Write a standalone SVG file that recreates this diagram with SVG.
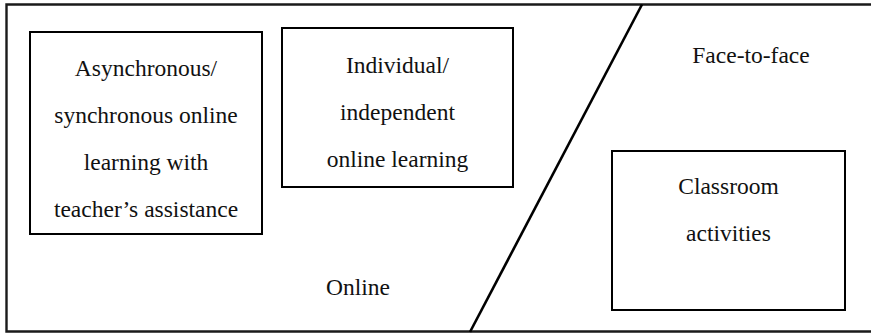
<svg xmlns="http://www.w3.org/2000/svg" width="871" height="333" viewBox="0 0 871 333">
  <style>
    .box { fill: #ffffff; stroke: #000000; stroke-width: 2; }
    .frame { fill: none; stroke: #1a1a1a; stroke-width: 2.4; }
    .divider { fill: none; stroke: #000000; stroke-width: 2.6; stroke-linecap: butt; }
    .label { font-family: "Liberation Serif", "Times New Roman", serif; font-size: 23.5px; fill: #111111; text-anchor: middle; }
  </style>

  <rect width="871" height="333" fill="#ffffff"/>

  <!-- outer frame; its right edge runs past the canvas -->
  <path class="frame" d="M 874 4.5 L 6.5 4.5 L 6.5 331.5 L 874 331.5"/>

  <!-- dividing line between the online and face-to-face areas -->
  <g id="connectors">
    <line class="divider" x1="642" y1="4.5" x2="470" y2="332"/>
  </g>

  <g id="region-online">
    <text class="label" x="358" y="295">Online</text>
  </g>

  <g id="region-face-to-face">
    <text class="label" x="751" y="63">Face-to-face</text>
  </g>

  <g id="node-async-sync">
    <rect class="box" x="30" y="32" width="232" height="202"/>
    <text class="label" x="146" y="76">Asynchronous/</text>
    <text class="label" x="146" y="123">synchronous online</text>
    <text class="label" x="146" y="170">learning with</text>
    <text class="label" x="146" y="217">teacher’s assistance</text>
  </g>

  <g id="node-individual">
    <rect class="box" x="282" y="28" width="231" height="159"/>
    <text class="label" x="397.5" y="73">Individual/</text>
    <text class="label" x="397.5" y="120">independent</text>
    <text class="label" x="397.5" y="167">online learning</text>
  </g>

  <g id="node-classroom">
    <rect class="box" x="612" y="151" width="233" height="159"/>
    <text class="label" x="728.5" y="194">Classroom</text>
    <text class="label" x="728.5" y="241">activities</text>
  </g>
</svg>
